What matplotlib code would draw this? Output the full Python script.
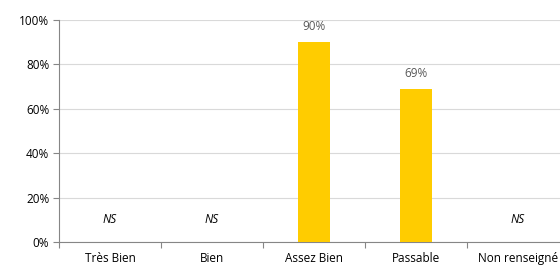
import matplotlib.pyplot as plt
from matplotlib.ticker import FuncFormatter

categories = ['Très Bien', 'Bien', 'Assez Bien', 'Passable', 'Non renseigné']
values = [None, None, 0.90, 0.69, None]
labels = ['NS', 'NS', '90%', '69%', 'NS']

plt.rcParams['font.family'] = ['Open Sans', 'DejaVu Sans']

fig = plt.figure(figsize=(5.6, 2.67), dpi=100)
# axes runs past the right edge, like the cropped original
ax = fig.add_axes([59 / 560, 25 / 267, 510 / 560, 222 / 267])

xs = [i + 0.5 for i in range(len(categories))]
bar_vals = [v if v is not None else 0 for v in values]
ax.bar(xs, bar_vals, width=0.31, color='#FFCC00', zorder=3)

for x, v, lab in zip(xs, values, labels):
    if v is None:
        ax.text(x, 0.10, lab, ha='center', va='center', fontsize=8.5,
                style='italic', color='black')
    else:
        ax.text(x, v + 0.07, lab, ha='center', va='center', fontsize=8.5,
                color='#595959')

ax.set_xlim(0, len(categories))
ax.set_ylim(0, 1)
ax.set_yticks([0, 0.2, 0.4, 0.6, 0.8, 1.0])
ax.yaxis.set_major_formatter(FuncFormatter(lambda y, _: f'{y:.0%}'))
ax.yaxis.grid(True, color='#D9D9D9', linewidth=0.8, zorder=0)

ax.set_xticks(range(len(categories) + 1))
ax.set_xticklabels([])
ax.set_xticks(xs, minor=True)
ax.set_xticklabels(categories, minor=True)
ax.tick_params(axis='x', which='minor', length=0, pad=7.5, labelsize=8.5)
ax.tick_params(axis='x', which='major', length=4, color='#868686')
ax.tick_params(axis='y', length=4, color='#868686', labelsize=8.5, pad=3)

for s in ['top', 'right']:
    ax.spines[s].set_visible(False)
for s in ['left', 'bottom']:
    ax.spines[s].set_color('#868686')
    ax.spines[s].set_linewidth(0.8)

fig.savefig('out.png', dpi=100)
